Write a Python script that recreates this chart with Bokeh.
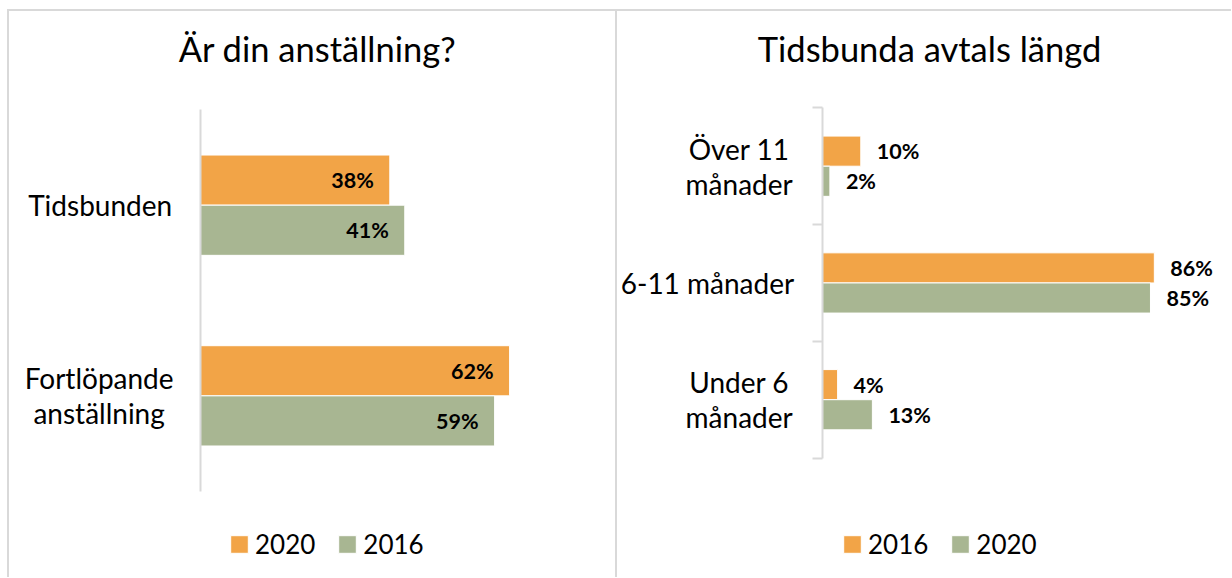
from bokeh.plotting import figure
from bokeh.models import (ColumnDataSource, Legend, LegendItem, FixedTicker,
                          Range1d, Spacer, Label)
from bokeh.layouts import row, column
from bokeh.embed import file_html
from bokeh.resources import INLINE
from bokeh.core.properties import value

ORANGE = "#F2A447"
GREEN = "#A8B692"
BORDER = "#D9D9D9"
FONT = "Lato"

# ---- data ----
left_title = "Är din anställning?"
left_categories = ["Tidsbunden", "Fortlöpande\nanställning"]
left_series = ["2020", "2016"]
left_2020 = [38, 62]
left_2016 = [41, 59]

right_title = "Tidsbunda avtals längd"
right_categories = ["Över 11\nmånader", "6-11 månader", "Under 6\nmånader"]
right_series = ["2016", "2020"]
right_2016 = [10, 86, 4]
right_2020 = [2, 85, 13]


def make_panel(title, cats, names, vals_a, vals_b, W, H, axis_x, axis_top,
               axis_bottom, px_per_pct, bar_h, inside, title_cx, title_base,
               label_center, legend_x, legend_y, tick_out):
    n = len(cats)
    centers = [n - i - 0.5 for i in range(n)]
    # ranges chosen so that the plotting frame covers the whole panel
    x0 = -axis_x / px_per_pct
    x1 = x0 + W / px_per_pct
    ppu = (axis_bottom - axis_top) / n
    y1 = n + axis_top / ppu
    y0 = -(H - axis_bottom) / ppu
    p = figure(frame_width=W, frame_height=H,
               x_range=Range1d(x0, x1), y_range=Range1d(y0, y1),
               output_backend="svg", toolbar_location=None,
               min_border=0, background_fill_color="white",
               border_fill_color="white")
    p.outline_line_color = None
    p.xgrid.visible = False
    p.ygrid.visible = False
    p.xaxis.visible = False

    src_a = ColumnDataSource(dict(
        y=[c + bar_h / 2 for c in centers], v=vals_a,
        lbl=[f"{v}%" for v in vals_a]))
    src_b = ColumnDataSource(dict(
        y=[c - bar_h / 2 for c in centers], v=vals_b,
        lbl=[f"{v}%" for v in vals_b]))

    ra = p.hbar(y="y", right="v", left=0, height=bar_h, source=src_a,
                fill_color=ORANGE, line_color="white", line_width=1)
    rb = p.hbar(y="y", right="v", left=0, height=bar_h, source=src_b,
                fill_color=GREEN, line_color="white", line_width=1)

    for src in (src_a, src_b):
        p.text(x="v", y="y", text="lbl", source=src,
               x_offset=-16 if inside else 16,
               text_align="right" if inside else "left",
               text_baseline="middle", text_font=value(FONT),
               text_font_style="bold", text_font_size="21.5px",
               text_color="black")

    # y axis at x = 0: line + category-boundary ticks
    ax = p.yaxis[0]
    ax.fixed_location = 0
    ax.bounds = (0, n)
    ax.ticker = FixedTicker(ticks=[], minor_ticks=list(range(n + 1)))
    ax.major_tick_line_color = None
    ax.minor_tick_in = 0
    ax.minor_tick_out = tick_out
    ax.minor_tick_line_color = BORDER if tick_out > 0 else None
    ax.minor_tick_line_width = 2
    ax.axis_line_color = BORDER
    ax.axis_line_width = 2

    # category labels (lines centred within a right-aligned block)
    lx, ly, lt, la, lxo, lyo = [], [], [], [], [], []
    line_h = 35
    for c, cat in zip(centers, cats):
        lines = cat.split("\n")
        k = len(lines)
        for j, ln in enumerate(lines):
            lx.append(0)
            ly.append(c)
            lt.append(ln)
            la.append("center" if k > 1 else "right")
            lxo.append(label_center if k > 1 else -28)
            lyo.append((j - (k - 1) / 2) * line_h)
    p.text(x="x", y="y", text="t", text_align="a", x_offset="xo",
           y_offset="yo",
           source=ColumnDataSource(dict(x=lx, y=ly, t=lt, a=la, xo=lxo,
                                        yo=lyo)),
           text_baseline="middle", text_font=value(FONT),
           text_font_size="28px", text_color="black")

    # chart title
    p.add_layout(Label(x=title_cx, y=H - title_base, x_units="screen",
                       y_units="screen", text=title, text_align="center",
                       text_baseline="alphabetic", text_font=FONT,
                       text_font_size="34.5px", text_color="black"))

    legend = Legend(items=[LegendItem(label=names[0], renderers=[ra]),
                           LegendItem(label=names[1], renderers=[rb])],
                    location=(legend_x, legend_y), orientation="horizontal",
                    border_line_color=None, background_fill_alpha=0,
                    padding=0, margin=0, spacing=21, label_standoff=5,
                    glyph_width=22, glyph_height=22,
                    label_text_font=FONT, label_text_font_size="26px",
                    label_text_color="black")
    p.add_layout(legend)
    p.styles = {"border-top": f"2px solid {BORDER}",
                "border-left": f"2px solid {BORDER}"}
    return p


# panel content starts at (9, 11) on the page
p1 = make_panel(left_title, left_categories, left_series, left_2020, left_2016,
                W=606, H=566, axis_x=190, axis_top=98, axis_bottom=478,
                px_per_pct=4.975, bar_h=0.263, inside=True,
                title_cx=308, title_base=35, label_center=-101,
                legend_x=219, legend_y=19, tick_out=0)
p2 = make_panel(right_title, right_categories, right_series, right_2016,
                right_2020, W=614, H=566, axis_x=204, axis_top=96,
                axis_bottom=445, px_per_pct=3.85, bar_h=0.258, inside=False,
                title_cx=312, title_base=35, label_center=-83,
                legend_x=224, legend_y=19, tick_out=10)

layout = column(Spacer(height=9), row(Spacer(width=7), p1, p2, spacing=0),
                spacing=0)
open("out.html", "w").write(file_html(layout, INLINE))
